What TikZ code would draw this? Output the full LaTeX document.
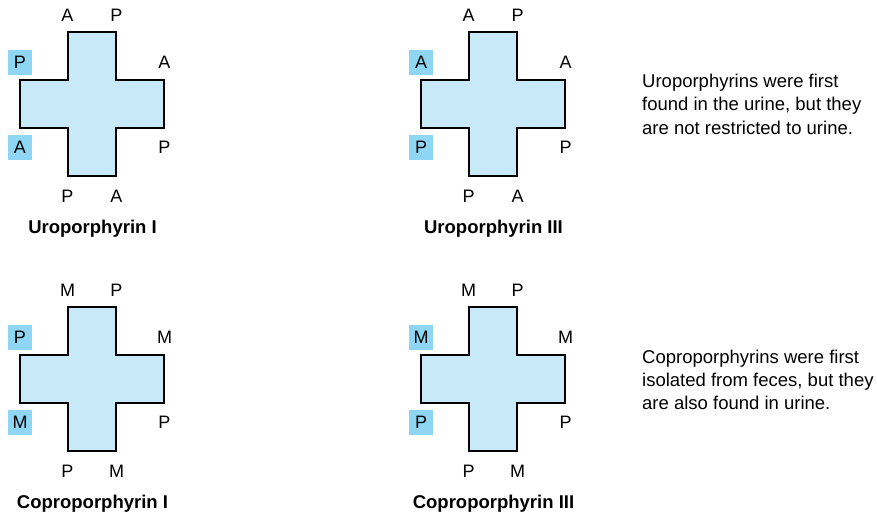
\documentclass[tikz,border=0pt]{standalone}
\usepackage{fontspec}
\setmainfont{Liberation Sans}
\definecolor{crossfill}{HTML}{C8E9F8}
\definecolor{hl}{HTML}{8ED6F4}
\begin{document}
\begin{tikzpicture}[x=1pt,y=-1pt,
  cross/.style={draw=black, line width=1.1pt, fill=crossfill, line join=miter},
  lab/.style={font=\fontsize{18}{21}\selectfont, inner sep=0pt, text height=12.9pt, text depth=0pt},
  hlab/.style={lab, fill=hl, minimum width=24pt, minimum height=25pt},
  ttl/.style={font=\fontsize{18.5}{22}\selectfont\bfseries, anchor=base, inner sep=0pt},
  note/.style={font=\fontsize{18.5}{23.3}\selectfont, align=left, anchor=base west, inner sep=0pt}]
\useasboundingbox (0,0) rectangle (877,514);
\foreach \n/\cx/\cy/\ta/\tb/\la/\lb/\ra/\rb/\ba/\bb/\t in {
  u1/92/104/A/P/P/A/A/P/P/A/Uroporphyrin I,
  u3/493/104/A/P/A/P/A/P/P/A/Uroporphyrin III,
  c1/92/379/M/P/P/M/M/P/P/M/Coproporphyrin I,
  c3/493/379/M/P/M/P/M/P/P/M/Coproporphyrin III}{
  \begin{scope}[shift={(\cx,\cy)}]
    \draw[cross] (-24,-72) -- (24,-72) -- (24,-24) -- (72,-24) -- (72,24) -- (24,24)
      -- (24,72) -- (-24,72) -- (-24,24) -- (-72,24) -- (-72,-24) -- (-24,-24) -- cycle;
    \node[lab] (\n-ta) at (-24.5,-89) {\ta};
    \node[lab] (\n-tb) at (24.5,-89) {\tb};
    \node[hlab] (\n-la) at (-72,-42) {\la};
    \node[hlab] (\n-lb) at (-72,43) {\lb};
    \node[lab] (\n-ra) at (72.5,-42) {\ra};
    \node[lab] (\n-rb) at (72.5,43) {\rb};
    \node[lab] (\n-ba) at (-24.5,92.5) {\ba};
    \node[lab] (\n-bb) at (24.5,92.5) {\bb};
    \node[ttl] (\n-t) at (0.5,129) {\t};
  \end{scope}
}
\node[note] (n1) at (642,134.2) {Uroporphyrins were first\\found in the urine, but they\\are not restricted to urine.};
\node[note] (n2) at (642,409.6) {Coproporphyrins were first\\isolated from feces, but they\\are also found in urine.};
\end{tikzpicture}
\end{document}
